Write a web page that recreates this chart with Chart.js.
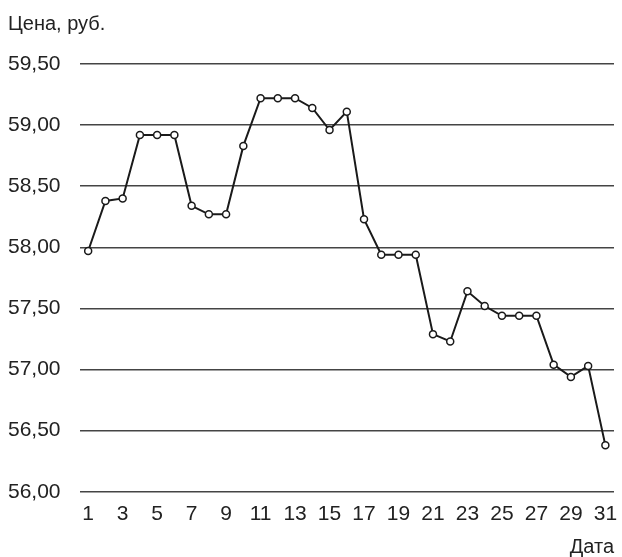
<!DOCTYPE html>
<html>
<head>
<meta charset="utf-8">
<script src="https://cdn.jsdelivr.net/npm/chart.js@4/dist/chart.umd.min.js"></script>
<style>
  html, body { margin: 0; padding: 0; background: #fff; }
  #wrap { width: 622px; height: 557px; }
</style>
</head>
<body>
<div id="wrap"><canvas id="priceChart" width="622" height="557"></canvas></div>
<script>
// Дни месяца и цена (руб.)
const days = [];
for (let d = 1; d <= 31; d++) days.push(String(d));

const prices = [
  57.97, 58.38, 58.40, 58.92, 58.92, 58.92, 58.34, 58.27, 58.27, 58.83,
  59.22, 59.22, 59.22, 59.14, 58.96, 59.11, 58.23, 57.94, 57.94, 57.94,
  57.29, 57.23, 57.64, 57.52, 57.44, 57.44, 57.44, 57.04, 56.94, 57.03,
  56.38
];

const yMin = 56.0;
const yMax = 59.5;
const yStep = 0.5;

const fontFamily = "'Liberation Sans', Arial, sans-serif";

const config = {
  type: 'line',
  data: {
    labels: days,
    datasets: [{
      label: 'Цена',
      data: prices,
      borderColor: '#1a1a1a',
      borderWidth: 2,
      pointRadius: 3.5,
      pointBorderWidth: 1.5,
      pointBackgroundColor: '#ffffff',
      pointBorderColor: '#1a1a1a',
      tension: 0
    }]
  },
  options: {
    responsive: false,
    animation: false,
    layout: { padding: { left: 8, right: 8, top: 0, bottom: 0 } },
    plugins: {
      legend: { display: false },
      tooltip: { enabled: false },
      title: {
        display: true,
        text: 'Цена, руб.',
        align: 'start',
        color: '#222',
        font: { family: fontFamily, size: 20, weight: 'normal' },
        padding: { top: 12, bottom: 28 }
      }
    },
    scales: {
      x: {
        offset: true,
        grid: { display: false, drawTicks: false },
        border: { display: false },
        // labels stay inside the offset, no extra side padding
        afterFit: s => { s.paddingLeft = 0; s.paddingRight = 0; },
        ticks: {
          autoSkip: false,
          maxRotation: 0,
          padding: 10,
          color: '#222',
          font: { family: fontFamily, size: 21 },
          callback: function (val, i) {
            return i % 2 === 0 ? this.getLabelForValue(val) : '';
          }
        },
        title: {
          display: true,
          text: 'Дата',
          align: 'end',
          color: '#222',
          font: { family: fontFamily, size: 20, lineHeight: 1 },
          padding: { top: 0, bottom: 0 }
        }
      },
      y: {
        min: yMin,
        max: yMax,
        grid: {
          color: '#444',
          lineWidth: 1.5,
          drawTicks: false
        },
        border: { display: false },
        ticks: {
          stepSize: yStep,
          padding: 9.5,
          crossAlign: 'far',
          color: '#222',
          font: { family: fontFamily, size: 21 },
          callback: v => v.toFixed(2).replace('.', ',')
        }
      }
    }
  }
};

const priceChart = new Chart(document.getElementById('priceChart'), config);
</script>
</body>
</html>
